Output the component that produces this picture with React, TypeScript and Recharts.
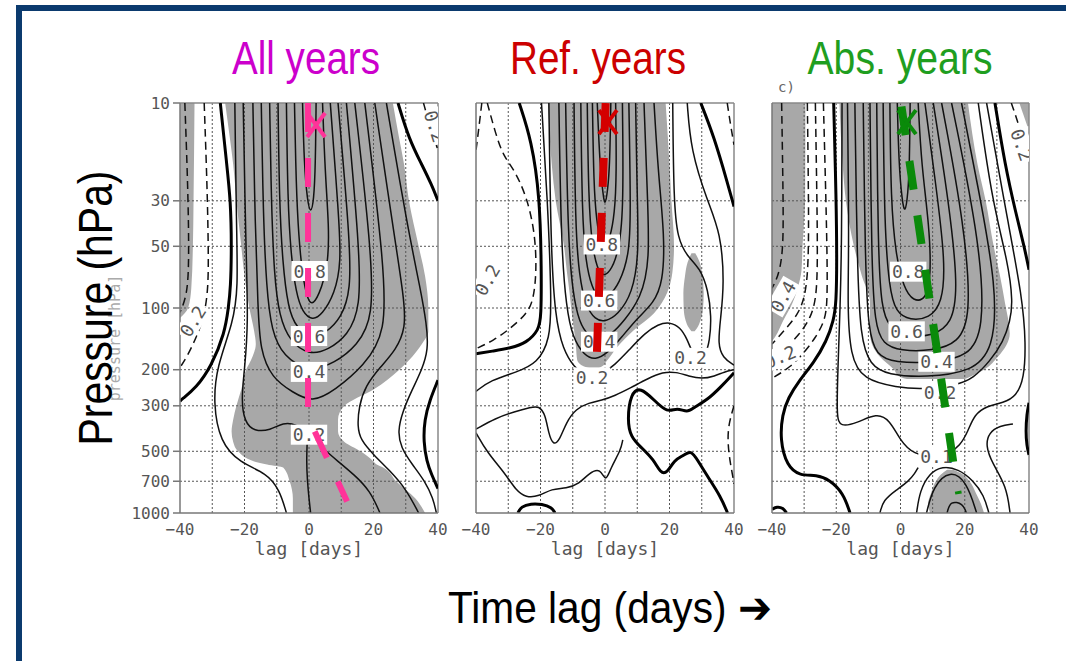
import React from "react";
import { ComposedChart, Area, Line, Scatter, XAxis, YAxis, ReferenceLine } from "recharts";

type Pt = [number, number]; // [lag in days, pressure in hPa]
type Band = [number, number, number]; // [pressure, left lag, right lag]
type Tag = { x: number; p: number; t: string; rot?: number };

const lagTicks = [-40, -20, 0, 20, 40];
const presTicks = [10, 30, 50, 100, 200, 300, 500, 700, 1000];
const lagGrid = [-30, -20, -10, 0, 10, 20, 30];
const presGrid = [30, 50, 100, 200, 300, 500, 700];

// ---------- All years
const allShade: Band[][] = [
  [[10, -26, 26], [15, -24.5, 28], [20, -23.5, 29.5], [30, -22.5, 31], [50, -21, 34], [70, -20, 36], [100, -18.5, 37], [130, -17, 37], [150, -16.5, 35], [180, -18, 31], [200, -19.5, 28], [250, -21, 20], [300, -22.5, 11], [350, -23.5, 9], [400, -24, 9], [450, -23.5, 11], [500, -22, 16], [560, -17, 20], [580, -13, 21], [600, -8, 23], [700, -6, 27], [850, -5, 33], [1000, -5, 36]],
  [[10, -40, -35.5], [30, -40, -35.8], [50, -40, -36], [80, -40, -36.5], [100, -40, -37.5], [112, -40, -40]],
];
const allThin: Pt[][] = [
  [[-2, 10], [-1.5, 20], [-0.5, 30], [0.5, 35], [1.5, 30], [2, 20], [2.2, 10]],
  [[-4.5, 10], [-4, 25], [-3.2, 45], [-2, 70], [-0.5, 90], [0.8, 97], [3, 88], [6, 62], [6.2, 40], [5, 22], [4.2, 10]],
  [[-7, 10], [-6.6, 30], [-5.6, 55], [-4, 85], [-2, 105], [1, 115], [4, 108], [8, 85], [10, 60], [9.2, 35], [6.6, 10]],
  [[-9.6, 10], [-9.2, 30], [-8.2, 60], [-6.5, 100], [-4, 125], [1, 140], [5, 133], [10, 112], [13, 82], [12.6, 45], [9, 10]],
  [[-12.2, 10], [-11.7, 30], [-10.8, 70], [-9.2, 110], [-6, 145], [0, 170], [6, 160], [12, 136], [16, 100], [15.6, 50], [11.6, 10]],
  [[-14.8, 10], [-14.2, 35], [-13.2, 80], [-11.6, 130], [-8, 172], [0, 205], [8, 186], [15, 152], [20, 112], [19.2, 50], [14.2, 10]],
  [[-17.4, 10], [-16.7, 40], [-15.8, 100], [-15.2, 160], [-11.5, 220], [-5, 258], [1, 290], [8, 252], [17, 192], [24, 132], [23.2, 60], [17.3, 10]],
  [[-20.4, 10], [-19.6, 50], [-18.8, 120], [-20, 200], [-21, 280], [-20, 360], [-17, 400], [-12, 395], [-8, 362], [-4, 368], [0, 415], [4, 480], [9, 560], [14, 650], [19, 780], [22, 1000]],
  [[20.4, 10], [26, 40], [29.5, 90], [30, 125], [27, 160], [22, 195], [17.5, 240], [15.5, 300], [15, 380], [16, 440], [20, 520], [25, 620], [30, 760], [34, 1000]],
  [[-23, 10], [-22.5, 40], [-22, 80], [-23.5, 118], [-28.6, 193], [-29.7, 290], [-27.6, 452], [-21.4, 570], [-13.2, 637], [-9.1, 770], [-7, 1000]],
  [[24, 10], [30.5, 40], [34.5, 80], [36.5, 120], [37, 160], [35, 200], [32, 250], [29, 320], [27.5, 400], [28.5, 480], [32, 580], [36, 700], [38.5, 850], [39.5, 1000]],
  [[-0.5, 430], [-0.8, 560], [-0.5, 700], [0, 850], [0.5, 1000]],
];
const allThick: Pt[][] = [
  [[-27.5, 10], [-25.5, 20], [-24.3, 30], [-24, 50], [-24.3, 80], [-25, 100], [-26.1, 132], [-30.3, 193], [-35, 245], [-39.6, 280], [-40, 285]],
  [[27.6, 10], [31, 15], [35, 20], [38, 25], [40, 30]],
  [[40, 225], [37.5, 280], [35.8, 350], [35.5, 450], [36.5, 560], [38, 650], [40, 760]],
];
const allDashed: Pt[][] = [
  [[-38.5, 10], [-37.8, 20], [-37.3, 40], [-37.3, 70], [-38.2, 90], [-40, 105]],
  [[-32.5, 10], [-31.6, 25], [-31.2, 50], [-31.2, 80], [-32.5, 110], [-35, 140], [-38, 175], [-40, 195]],
  [[35.5, 10], [37.5, 13], [40, 17]],
];
const allTags: Tag[] = [
  { x: 0.2, p: 66, t: "0.8" },
  { x: 0, p: 137, t: "0.6" },
  { x: 0, p: 205, t: "0.4" },
  { x: 0, p: 415, t: "0.2" },
  { x: -36, p: 116, t: "0.2", rot: -58 },
  { x: 39, p: 13, t: "0.2", rot: 72 },
];
const allTrack: Pt[] = [[-0.3, 10], [-0.3, 340], [11.8, 880]];
const allMark: Pt = [2.2, 12.8];

// ---------- Ref. years
const refShade: Band[][] = [
  [[10, -17.7, 18.8], [20, -16.5, 20], [30, -15.3, 20.6], [50, -12.7, 21.4], [67, -11.8, 20.9], [84, -11, 19.3], [106, -10.3, 15.2], [128, -9.6, 9], [155, -9, 3.8], [180, -8.6, 0.7], [193, -6.5, -1], [198, -3.5, -2.5]],
  [[54, 26.8, 28], [60, 25.6, 29.4], [70, 24.8, 30.2], [85, 24.3, 30.6], [100, 24.4, 30.4], [115, 25, 29.6], [125, 26, 28.6], [130, 26.8, 27.8]],
];
const refThin: Pt[][] = [
  [[-2.4, 10], [-1.6, 20], [-0.6, 28], [0, 32], [0.8, 27], [1.5, 20], [1.8, 10]],
  [[-3.9, 10], [-3.5, 25], [-2.6, 38], [-1.4, 48], [0, 51], [1.5, 46], [3, 35], [3.6, 22], [3.3, 10]],
  [[-5.5, 10], [-5.1, 30], [-4, 50], [-2.4, 64], [-0.8, 70], [1.5, 67], [4, 55], [5.8, 35], [5.4, 10]],
  [[-7.5, 10], [-7.1, 35], [-6, 60], [-4, 80], [-2, 90], [1, 89], [4.5, 76], [7.5, 55], [8, 35], [7.4, 10]],
  [[-9.6, 10], [-9.2, 40], [-8, 70], [-6, 98], [-3, 114], [0, 117], [4, 108], [8.5, 85], [10.5, 55], [10, 30], [9.5, 10]],
  [[-12.2, 10], [-11.5, 45], [-10, 85], [-8, 118], [-5, 138], [-2, 143], [2, 135], [6, 115], [11, 90], [14, 60], [13, 25], [12.1, 10]],
  [[-14.3, 10], [-13.6, 50], [-12, 100], [-10, 140], [-6.5, 170], [-3, 180], [1, 165], [5, 140], [10, 112], [15, 95], [18, 75], [18.5, 45], [16.5, 22], [15.2, 10]],
  [[-17.4, 10], [-16.8, 50], [-15.5, 110], [-13, 160], [-9.5, 195], [-6.5, 212], [-4, 218], [-1, 210], [3, 190], [7.5, 160], [12.5, 132], [16.5, 120], [20, 117], [23.3, 124], [25.5, 142], [27, 165], [29, 178], [31, 172], [32.5, 145], [33, 110], [32, 82], [29.5, 64], [25.5, 56], [22.5, 46], [21.3, 30], [21, 10]],
  [[-19.7, 10], [-17.8, 30], [-16.6, 91], [-17, 143], [-21, 186], [-27.2, 205], [-35.5, 225], [-40, 255]],
  [[25.5, 10], [26.6, 17], [31.7, 30], [35.9, 43], [37, 76], [35.8, 114], [35, 150], [36.5, 175], [40, 190]],
  [[-40, 390], [-34, 345], [-28, 320], [-23, 305], [-20.5, 300], [-18.5, 330], [-17.5, 410], [-16, 470], [-14, 440], [-12, 360], [-9, 310], [-5, 290], [-1, 282], [3, 268], [8, 245], [13, 222], [18, 205], [22, 205], [26, 215], [30, 222], [34, 215], [37, 205], [40, 200]],
  [[-40, 406], [-36.5, 508], [-31, 640], [-27.5, 780], [-24.5, 840], [-20.5, 830], [-16.5, 760], [-12, 760], [-8, 720], [-5, 640], [-1.4, 600], [0.2, 715], [1.8, 600], [4.9, 493], [5.5, 440]],
];
const refThick: Pt[][] = [
  [[-26.6, 10], [-22.8, 15.2], [-20.2, 28.4], [-19.7, 66], [-19.8, 110], [-20.5, 128], [-24.3, 148], [-29.4, 157], [-34.5, 162], [-40, 167]],
  [[29.7, 10], [33.8, 14.6], [38, 24.6], [40, 32]],
  [[40, 207], [35.9, 243], [31.7, 281], [27.6, 305], [25.5, 325], [22.4, 305], [19.3, 325], [15.2, 281], [11, 243], [8, 260], [6.9, 352], [8, 426], [11, 475], [15.2, 551], [17.2, 640], [19.3, 640], [21.4, 551], [24.5, 524], [26.6, 493], [28.7, 551], [31.7, 660], [35.9, 833], [38, 1000]],
  [[-27, 1000], [-26, 930], [-23, 900], [-19.5, 905], [-16.5, 940], [-15.5, 1000]],
];
const refDashed: Pt[][] = [
  [[-36.5, 10], [-34, 14], [-31.5, 18.2], [-28.4, 20.8], [-24.3, 28.4], [-21.7, 43], [-21.2, 66], [-22.2, 92], [-24.3, 107], [-29.4, 126], [-34.5, 144], [-40, 158]],
  [[-38.2, 10], [-39.3, 14], [-40, 17]],
  [[37.9, 10], [39, 13], [40, 16]],
  [[40, 300], [38.5, 360], [38, 430], [38.5, 530], [39.3, 620], [40, 720]],
];
const refTags: Tag[] = [
  { x: -1.0, p: 49, t: "0.8" },
  { x: -1.8, p: 92, t: "0.6" },
  { x: -1.8, p: 146, t: "0.4" },
  { x: -4, p: 218, t: "0.2" },
  { x: 26.5, p: 175, t: "0.2" },
  { x: -36.5, p: 73, t: "0.2", rot: -60 },
];
const refTrack: Pt[] = [[0.2, 10], [-2.6, 182]];
const refMark: Pt = [0.9, 12.4];

// ---------- Abs. years
const absShade: Band[][] = [
  [[10, -40, -29.6], [30, -40, -29.7], [50, -40, -30.5], [65, -40, -30.8], [80, -40, -32], [95, -40, -33.7], [115, -40, -36.5], [138, -40, -39], [145, -40, -40]],
  [[10, -19, 21], [20, -18, 24], [30, -17, 26.5], [50, -14.5, 29], [70, -12, 31], [94, -9.5, 32.5], [133, -9.5, 34], [173, -6.4, 30.3], [200, -2, 26], [215, -0.5, 22], [222, 2, 20]],
  [[616, 14.5, 16.5], [650, 12.5, 19.5], [700, 11, 21.5], [800, 9.5, 23.5], [900, 8.6, 25], [1000, 9.2, 26]],
  [[10, 37, 40], [13, 39.5, 40]],
];
const absThin: Pt[][] = [
  [[-1, 10], [-0.5, 20], [0.5, 30], [1.4, 35], [2.3, 28], [2.8, 20], [3, 10]],
  [[-3.3, 10], [-3, 30], [-1.5, 55], [1, 80], [4, 93], [8, 91], [9.5, 70], [9, 40], [6.5, 20], [5.5, 10]],
  [[-5.4, 10], [-5, 40], [-3.5, 80], [-1.5, 105], [3, 115], [9, 112], [13, 95], [14, 60], [11, 25], [7.6, 10]],
  [[-7.4, 10], [-7, 50], [-6, 100], [-3.5, 125], [2, 138], [10, 137], [16, 120], [18, 80], [15, 30], [10.2, 10]],
  [[-9.5, 10], [-9, 60], [-8, 120], [-5.5, 150], [0, 162], [10, 162], [18, 148], [22, 110], [20, 40], [12.8, 10]],
  [[-11.6, 10], [-11, 60], [-10, 130], [-7.5, 170], [-2, 185], [11, 185], [21, 172], [26, 130], [25, 50], [15.9, 10]],
  [[-14.2, 10], [-13.5, 60], [-12.5, 140], [-9.5, 190], [-4, 212], [8, 218], [22, 205], [29, 160], [30, 80], [24, 25], [19, 10]],
  [[-16.5, 10], [-16, 50], [-16.5, 94], [-15.7, 173], [-11.6, 224], [-1.2, 244], [7.1, 250], [17.5, 238], [22.7, 220], [27.8, 182], [32, 146], [34.1, 116], [35, 94], [33.5, 60], [28.5, 30], [24.2, 10]],
  [[-18.2, 10], [-18.3, 50], [-18.8, 100], [-19.5, 200], [-19.9, 340], [-18.8, 380], [-13.6, 365], [-7.4, 325], [-3.3, 352], [-0.2, 440], [4, 520], [11.2, 530], [15, 515], [18.5, 470], [21, 400], [23, 330], [27, 300], [32, 290], [36, 270], [38.5, 220], [39, 150], [38, 90], [33, 35], [26.8, 10]],
  [[8.1, 1000], [10.2, 740], [15.4, 616], [20.6, 700], [23.7, 1000]],
  [[14.5, 1000], [15.5, 870], [19.5, 900], [20.5, 1000]],
  [[5, 1000], [6, 780], [9, 640], [13, 590], [18, 610], [22.5, 690], [26, 820], [27.5, 1000]],
  [[34.1, 1000], [33, 740], [28.5, 570], [26.5, 470], [27.5, 405], [31, 375], [35, 368]],
  [[-6.4, 1000], [-5.4, 865], [-1.2, 770], [2.5, 700], [4.5, 640], [5.5, 600]],
];
const absThick: Pt[][] = [
  [[-20.8, 10], [-20, 30], [-19.8, 60], [-20, 94], [-20.8, 115], [-23, 145], [-27, 185], [-31.5, 225], [-35, 275], [-36.8, 330], [-37.5, 440], [-35.4, 590], [-31.3, 660], [-26.1, 650], [-22, 690], [-17.8, 800], [-15.7, 1000]],
  [[29.4, 10], [32.5, 20], [36, 35], [38.5, 50], [40, 65]],
  [[40, 290], [39.3, 330], [39, 400], [39.3, 470], [40, 520]],
  [[-40, 960], [-38.5, 930], [-36.5, 945], [-35.5, 1000]],
];
const absDashed: Pt[][] = [
  [[-37, 10], [-36.5, 30], [-36.5, 50], [-37.5, 65], [-39, 75], [-40, 80]],
  [[-29, 10], [-28.6, 30], [-28.6, 60], [-29.6, 88], [-32, 108], [-36, 128], [-40, 150]],
  [[-26.5, 10], [-26, 30], [-25.8, 60], [-26.2, 90], [-28, 112], [-31.5, 135], [-36, 158], [-40, 175]],
  [[-24, 10], [-23.2, 30], [-22.8, 60], [-22.8, 94], [-23.5, 115], [-26.5, 140], [-30, 165], [-34.4, 195], [-38.5, 213], [-40, 220]],
  [[34.5, 10], [37, 13], [39.5, 18], [40, 19]],
];
const absTags: Tag[] = [
  { x: 2.4, p: 66.5, t: "0.8" },
  { x: 1.9, p: 130, t: "0.6" },
  { x: 11.2, p: 183, t: "0.4" },
  { x: 12.3, p: 258, t: "0.2" },
  { x: 11.2, p: 530, t: "0.1" },
  { x: -36.6, p: 88, t: "0.4", rot: -60 },
  { x: -37.5, p: 173, t: "0.2", rot: -22 },
  { x: 37.7, p: 16, t: "0.2", rot: 70 },
];
const absTrack: Pt[] = [[0.3, 10.4], [16.8, 620]];
const absTick: Pt[] = [[17, 800], [19, 790]];
const absMark: Pt = [2, 12.4];

const MONO = "'DejaVu Sans Mono', monospace";
const NARROW = "'Liberation Sans Narrow', 'Arial Narrow', 'Liberation Sans', Arial, sans-serif";

const fmtLag = (v: number) => (v < 0 ? "\u2212" + -v : String(v));
const toRows = (pts: Pt[]) => pts.map(([x, p]) => ({ x, p }));

function TagShape(props: any) {
  const { cx, cy, payload } = props;
  if (cx == null || cy == null) return <g />;
  const w = payload.t.length * 10.8 + 4;
  return (
    <g transform={`rotate(${payload.rot || 0} ${cx} ${cy})`}>
      <rect x={cx - w / 2} y={cy - 10} width={w} height={20} fill="#fff" />
      <text x={cx} y={cy + 6.5} textAnchor="middle" fontSize={18} fontFamily={MONO} fill="#555">
        {payload.t}
      </text>
    </g>
  );
}

const Blank = () => <g />;

function Panel(props: {
  left: number;
  plotW: number;
  showY: boolean;
  shade: Band[][];
  thin: Pt[][];
  thick: Pt[][];
  dashed: Pt[][];
  tags: Tag[];
  track: Pt[];
  mark: Pt;
  color: string;
  trackW: number;
  extra?: Pt[];
}) {
  const { left, plotW, showY, shade, thin, thick, dashed, tags, track, mark, color, trackW, extra } = props;
  const rows: any[] = [];
  shade.forEach((reg, i) => reg.forEach(([p, l, r]) => rows.push({ p, ["g" + i]: [l, r] })));
  const YW = 50;

  const MarkShape = (s: any) => {
    const { cx, cy } = s;
    if (cx == null) return <g />;
    return (
      <g stroke={color} strokeWidth={4}>
        <line x1={cx - 9} y1={cy - 12} x2={cx + 9} y2={cy + 12} />
        <line x1={cx + 9} y1={cy - 12} x2={cx - 9} y2={cy + 12} />
      </g>
    );
  };

  return (
    <div style={{ position: "absolute", left: left - YW, top: 93 }}>
      <ComposedChart
        layout="vertical"
        width={YW + plotW + 14}
        height={468}
        data={rows}
        margin={{ top: 10, right: 14, bottom: 6, left: 0 }}
      >
        <XAxis
          type="number"
          dataKey="x"
          domain={[-40, 40]}
          ticks={lagTicks}
          allowDataOverflow
          tickFormatter={fmtLag}
          tickLine={false}
          tickMargin={5}
          height={42}
          stroke="#777"
          strokeWidth={1.5}
          tick={{ fontSize: 16, fontFamily: MONO, fill: "#555" }}
          label={{ value: "lag [days]", position: "insideBottom", offset: 0, fill: "#555", fontSize: 18, fontFamily: MONO }}
        />
        <YAxis
          type="number"
          dataKey="p"
          scale="log"
          domain={[10, 1000]}
          ticks={presTicks}
          allowDataOverflow
          width={YW}
          stroke="#777"
          strokeWidth={1.5}
          tick={showY ? { fontSize: 16, fontFamily: MONO, fill: "#555" } : false}
          tickLine={showY}
          tickSize={7}
          tickMargin={3}
        />
        {shade.map((_, i) => (
          <Area
            key={"g" + i}
            dataKey={"g" + i}
            type="monotone"
            stroke="none"
            fill="#a8a8a8"
            fillOpacity={1}
            connectNulls={false}
            isAnimationActive={false}
          />
        ))}
        {lagGrid.map((v) => (
          <ReferenceLine key={"gx" + v} x={v} stroke="#555" strokeDasharray="2 2" />
        ))}
        {presGrid.map((v) => (
          <ReferenceLine key={"gy" + v} y={v} stroke="#555" strokeDasharray="2 2" />
        ))}
        <ReferenceLine x={40} stroke="#888" strokeWidth={1.5} />
        <ReferenceLine y={10} stroke="#888" strokeWidth={1.5} />
        {thin.map((c, i) => (
          <Line key={"t" + i} data={toRows(c)} dataKey="x" type="basis" stroke="#111" strokeWidth={1.5} dot={false} isAnimationActive={false} />
        ))}
        {dashed.map((c, i) => (
          <Line key={"d" + i} data={toRows(c)} dataKey="x" type="basis" stroke="#111" strokeWidth={1.5} strokeDasharray="8 5" dot={false} isAnimationActive={false} />
        ))}
        {thick.map((c, i) => (
          <Line key={"k" + i} data={toRows(c)} dataKey="x" type="basis" stroke="#000" strokeWidth={3} dot={false} isAnimationActive={false} />
        ))}
        <Scatter data={tags} shape={TagShape} isAnimationActive={false} />
        <Scatter
          data={toRows(track)}
          shape={Blank}
          line={{ stroke: color, strokeWidth: trackW, strokeDasharray: "29 26" }}
          isAnimationActive={false}
        />
        {extra && (
          <Scatter data={toRows(extra)} shape={Blank} line={{ stroke: color, strokeWidth: 3 }} isAnimationActive={false} />
        )}
        <Scatter data={[{ x: mark[0], p: mark[1] }]} shape={MarkShape} isAnimationActive={false} />
      </ComposedChart>
    </div>
  );
}

export default function App() {
  return (
    <div style={{ position: "absolute", left: 0, top: 0, width: 1066, height: 661, background: "#fff", overflow: "hidden" }}>
      <Panel left={180} plotW={258} showY shade={allShade} thin={allThin} thick={allThick} dashed={allDashed} tags={allTags} track={allTrack} mark={allMark} color="#ff3399" trackW={6} />
      <Panel left={476} plotW={258} showY={false} shade={refShade} thin={refThin} thick={refThick} dashed={refDashed} tags={refTags} track={refTrack} mark={refMark} color="#d40000" trackW={8} />
      <Panel left={772} plotW={257} showY={false} shade={absShade} thin={absThin} thick={absThick} dashed={absDashed} tags={absTags} track={absTrack} mark={absMark} color="#0a8a0a" trackW={8} extra={absTick} />
      <svg width={1066} height={661} style={{ position: "absolute", left: 0, top: 0, pointerEvents: "none" }}>
        <rect x={16} y={5} width={1050} height={6} fill="#0b3a6e" />
        <rect x={16} y={5} width={6} height={656} fill="#0b3a6e" />
        <text x={306} y={74} textAnchor="middle" fontSize={46} fontFamily={NARROW} fill="#cc00cc" textLength={148} lengthAdjust="spacingAndGlyphs">All years</text>
        <text x={598} y={74} textAnchor="middle" fontSize={46} fontFamily={NARROW} fill="#cc0000" textLength={176} lengthAdjust="spacingAndGlyphs">Ref. years</text>
        <text x={900} y={74} textAnchor="middle" fontSize={46} fontFamily={NARROW} fill="#1f9e1f" textLength={185} lengthAdjust="spacingAndGlyphs">Abs. years</text>
        <text x={778} y={92} fontSize={14} fontFamily={MONO} fill="#666">c)</text>
        <text transform="translate(120,338) rotate(-90)" textAnchor="middle" fontSize={15} fontFamily={MONO} fill="#aaa">pressure [hPa]</text>
        <text transform="translate(112,308) rotate(-90)" textAnchor="middle" fontSize={49} fontFamily={NARROW} fill="#000" textLength={275} lengthAdjust="spacingAndGlyphs">Pressure (hPa)</text>
        <text x={448} y={623} fontSize={44} fontFamily={NARROW} fill="#000" textLength={324} lengthAdjust="spacingAndGlyphs">{"Time lag (days) \u2794"}</text>
      </svg>
    </div>
  );
}
